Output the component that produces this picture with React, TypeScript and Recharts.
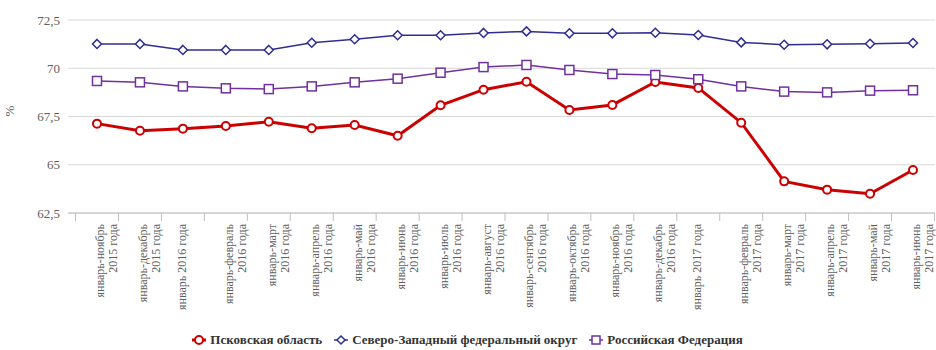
import React from 'react';
import {
    LineChart, Line, XAxis, YAxis, CartesianGrid, Legend
} from 'recharts';

const months = [
    'январь-ноябрь\n2015 года', 'январь-декабрь\n2015 года', 'январь 2016 года',
    'январь-февраль\n2016 года', 'январь-март\n2016 года', 'январь-апрель\n2016 года',
    'январь-май\n2016 года', 'январь-июнь\n2016 года', 'январь-июль\n2016 года',
    'январь-август\n2016 года', 'январь-сентябрь\n2016 года', 'январь-октябрь\n2016 года',
    'январь-ноябрь\n2016 года', 'январь-декабрь\n2016 года', 'январь 2017 года',
    'январь-февраль\n2017 года', 'январь-март\n2017 года', 'январь-апрель\n2017 года',
    'январь-май\n2017 года', 'январь-июнь\n2017 года'
];

const pskov = [67.13, 66.76, 66.87, 67.01, 67.23, 66.89, 67.06, 66.5, 68.08, 68.89, 69.3, 67.84, 68.1, 69.29, 68.98, 67.18, 64.14, 63.71, 63.5, 64.73];
const szfo = [71.26, 71.26, 70.95, 70.95, 70.95, 71.32, 71.5, 71.71, 71.71, 71.83, 71.91, 71.81, 71.81, 71.84, 71.72, 71.34, 71.22, 71.24, 71.27, 71.31];
const rf = [69.34, 69.27, 69.06, 68.96, 68.92, 69.06, 69.27, 69.46, 69.77, 70.06, 70.17, 69.91, 69.7, 69.65, 69.43, 69.06, 68.79, 68.75, 68.84, 68.86];

const yTicks = [62.5, 65, 67.5, 70, 72.5];

const data = months.map((m, i) => ({ month: m, pskov: pskov[i], szfo: szfo[i], rf: rf[i] }));

const RED = '#cc0000';
const BLUE = '#2e2e92';
const PURPLE = '#7030a0';
const SERIF = '"Liberation Serif", "Times New Roman", serif';

// ширина полосы категории (для засечек на границах)
const W = 936;
const Y_AXIS_W = 68;
const PAD_LEFT = 29;
const PAD_RIGHT = 22;
const RIGHT = 1;
const BAND = (W - Y_AXIS_W - PAD_LEFT - PAD_RIGHT - RIGHT) / (months.length - 1);

const CircleDot = (props: any) => {
    const { cx, cy, index } = props;
    return <circle key={index} cx={cx} cy={cy} r={4} fill="#fff" stroke={RED} strokeWidth={2} />;
};

const DiamondDot = (props: any) => {
    const { cx, cy, index } = props;
    const r = 4.5;
    return (
        <path key={index} d={`M${cx},${cy - r}L${cx + r},${cy}L${cx},${cy + r}L${cx - r},${cy}Z`}
            fill="#fff" stroke={BLUE} strokeWidth={1.5} />
    );
};

const SquareDot = (props: any) => {
    const { cx, cy, index } = props;
    return <rect key={index} x={cx - 4.5} y={cy - 4.5} width={9} height={9} fill="#fff" stroke={PURPLE} strokeWidth={1.5} />;
};

const MonthTick = (props: any) => {
    const { x, y, payload, index } = props;
    const lines = String(payload.value).split('\n');
    const half = BAND / 2;
    const last = index === months.length - 1;
    return (
        <g transform={`translate(${x},${y})`}>
            <line x1={-half} y1={0} x2={-half} y2={8} stroke="#c0c0c0" />
            {last && <line x1={half} y1={0} x2={half} y2={8} stroke="#c0c0c0" />}
            <text transform="rotate(-90)" textAnchor="end" fontSize={12} fill="#606060" fontFamily={SERIF}>
                {lines.length === 1 ? (
                    <tspan x={-11} y={3}>{lines[0]}</tspan>
                ) : (
                    lines.map((l, i) => (
                        <tspan key={i} x={-11} y={7 + i * 13}>{l}</tspan>
                    ))
                )}
            </text>
        </g>
    );
};

const legendItems = [
    { name: 'Псковская область', kind: 'circle', color: RED, width: 3 },
    { name: 'Северо-Западный федеральный округ', kind: 'diamond', color: BLUE, width: 1.5 },
    { name: 'Российская Федерация', kind: 'square', color: PURPLE, width: 1.5 },
];

const LegendContent = () => (
    <div style={{ display: 'flex', justifyContent: 'center', alignItems: 'center', height: 20, paddingLeft: 0 }}>
        {legendItems.map((it, i) => (
            <div key={it.name} style={{ display: 'flex', alignItems: 'center', marginRight: i < legendItems.length - 1 ? 12 : 0 }}>
                <svg width={14} height={12} style={{ marginRight: 4 }}>
                    <line x1={0} y1={6} x2={14} y2={6} stroke={it.color} strokeWidth={it.width} />
                    {it.kind === 'circle' && <circle cx={7} cy={6} r={4} fill="#fff" stroke={it.color} strokeWidth={2} />}
                    {it.kind === 'diamond' && <path d="M7,2L11,6L7,10L3,6Z" fill="#fff" stroke={it.color} strokeWidth={1.5} />}
                    {it.kind === 'square' && <rect x={3} y={2} width={8} height={8} fill="#fff" stroke={it.color} strokeWidth={1.5} />}
                </svg>
                <span style={{ fontFamily: SERIF, fontWeight: 'bold', fontSize: 13, color: '#333' }}>{it.name}</span>
            </div>
        ))}
    </div>
);

export default function App() {
    return (
        <div style={{ position: 'absolute', left: 0, top: 0, width: W, height: 350, background: '#fff' }}>
            <LineChart width={W} height={350} data={data} margin={{ top: 20, right: RIGHT, left: 0, bottom: 0 }}>
                <CartesianGrid horizontal vertical={false} stroke="#d8d8d8" />
                <XAxis
                    dataKey="month"
                    interval={0}
                    height={117}
                    padding={{ left: PAD_LEFT, right: PAD_RIGHT }}
                    tickLine={false}
                    tickSize={0}
                    tickMargin={0}
                    axisLine={{ stroke: '#c0c0c0' }}
                    tick={<MonthTick />}
                />
                <YAxis
                    width={Y_AXIS_W}
                    domain={[62.5, 72.5]}
                    ticks={yTicks}
                    interval={0}
                    axisLine={false}
                    tickLine={false}
                    tickSize={0}
                    tickMargin={8}
                    tickFormatter={(v: number) => String(v).replace('.', ',')}
                    tick={{ fill: '#606060', fontSize: 13, fontFamily: SERIF }}
                    label={{ value: '%', angle: -90, position: 'insideLeft', offset: 9, fill: '#606060', fontSize: 13, fontFamily: SERIF }}
                />
                <Legend verticalAlign="bottom" height={20} content={<LegendContent />} />
                <Line dataKey="pskov" name="Псковская область" stroke={RED} strokeWidth={3} dot={CircleDot} isAnimationActive={false} />
                <Line dataKey="szfo" name="Северо-Западный федеральный округ" stroke={BLUE} strokeWidth={1.5} dot={DiamondDot} isAnimationActive={false} />
                <Line dataKey="rf" name="Российская Федерация" stroke={PURPLE} strokeWidth={1.5} dot={SquareDot} isAnimationActive={false} />
            </LineChart>
        </div>
    );
}
